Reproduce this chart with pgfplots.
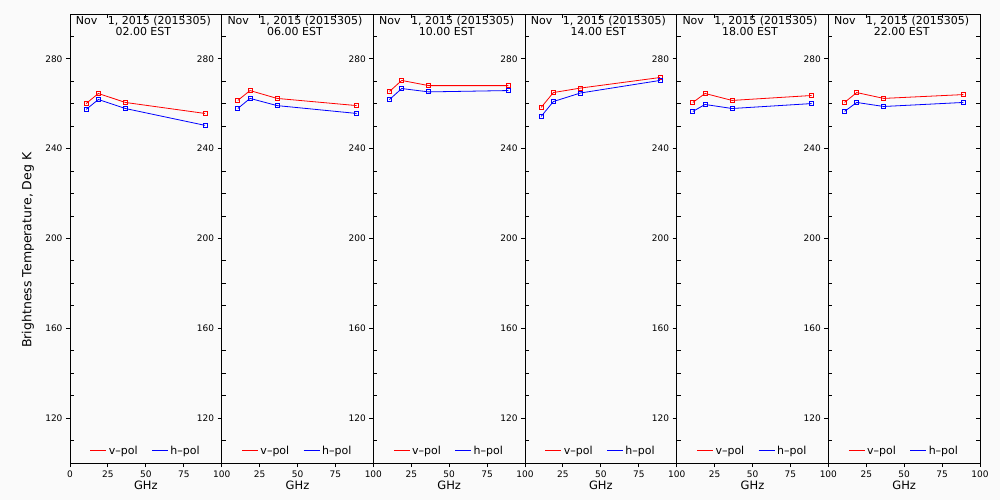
\documentclass[border=0pt]{standalone}
\usepackage{pgfplots}
\pgfplotsset{compat=1.18}
\usepackage{fontspec}
\setmainfont{DejaVu Sans}
\definecolor{bg}{RGB}{250,250,250}
\definecolor{vred}{RGB}{255,0,0}
\definecolor{hblue}{RGB}{0,0,255}
\pgfplotsset{
  panel/.style={
    scale only axis, width=151.67pt, height=449pt,
    xmin=0, xmax=100, ymin=100, ymax=300,
    axis background/.style={fill=bg},
    axis line style={line width=0.9pt},
    xtick={0,25,50,75,100},
    ytick={120,160,200,240,280},
    minor ytick={110,130,140,150,170,180,190,210,220,230,250,260,270,290},
    xtick pos=bottom, ytick pos=left,
    tick align=outside, major tick length=4pt, minor tick length=4pt,
    tick style={line width=0.9pt, black},
    minor tick style={xshift=4pt},
    /pgf/number format/assume math mode=true,
    tick label style={font=\fontsize{9}{10}\selectfont},
    xlabel={GHz},
    xlabel style={at={(axis description cs:0.5,-0.049)}, anchor=center, font=\fontsize{11.5}{12}\selectfont},
    every axis title shift=0pt,
    title style={at={(axis description cs:0.5,1)}, anchor=north, align=center, inner sep=1.5pt,
      xshift=-2.5pt, font=\fontsize{11}{11.5}\selectfont},
    legend style={draw=none, fill=none, at={(axis description cs:0.5,0.027)}, anchor=center,
      font=\fontsize{11}{11}\selectfont, inner sep=0pt,
      /tikz/every even column/.append style={column sep=12pt}},
    legend columns=2,
    legend image code/.code={\draw[#1] (0pt,0pt) -- (16pt,0pt);},
  },
  vp/.style={draw=vred, line width=0.8pt, mark=square, mark size=2pt, mark options={solid, draw=vred, fill=none}},
  hp/.style={draw=hblue, line width=0.8pt, mark=square, mark size=2pt, mark options={solid, draw=hblue, fill=none}},
}
\newcommand\topticks{%
  \draw[line width=0.9pt] (axis cs:25,300) -- ++(0pt,-4pt);
  \draw[line width=0.9pt] (axis cs:50,300) -- ++(0pt,-4pt);
  \draw[line width=0.9pt] (axis cs:75,300) -- ++(0pt,-4pt);
}
\newcommand\panel[5]{%
  \begin{axis}[panel, at={({70pt+#1*151.67pt},37pt)}, anchor=south west,
    title={Nov\ \ \ 1, 2015 (2015305)\\#2 EST}, #5]
    \addplot[vp] coordinates {#3};
    \addlegendentry{v–pol}
    \addplot[hp] coordinates {#4};
    \addlegendentry{h–pol}
    \topticks
  \end{axis}}
\begin{document}
\begin{tikzpicture}
\fill[bg] (0,0) rectangle (1000pt,500pt);
\useasboundingbox (0,0) rectangle (1000pt,500pt);
\panel{0}{02.00}{(10.65,260.1) (18.7,264.6) (36.5,260.6) (89,255.7)}
  {(10.65,257.5) (18.7,261.9) (36.5,257.9) (89,250.4)}
  {ylabel={Brightness Temperature, Deg K},
   ylabel style={at={(axis description cs:-0.277,0.474)}, anchor=center, font=\fontsize{12.5}{13}\selectfont}}
\panel{1}{06.00}{(10.65,261.5) (18.7,265.9) (36.5,262.4) (89,259.2)}
  {(10.65,257.9) (18.7,262.4) (36.5,259.2) (89,255.7)}
  {xticklabels={{},25,50,75,100}}
\panel{2}{10.00}{(10.65,265.5) (18.7,270.4) (36.5,268.1) (89,268.1)}
  {(10.65,261.9) (18.7,266.8) (36.5,265.3) (89,265.9)}
  {xticklabels={{},25,50,75,100}}
\panel{3}{14.00}{(10.65,258.4) (18.7,265.0) (36.5,267.0) (89,271.7)}
  {(10.65,254.4) (18.7,261.0) (36.5,264.8) (89,270.4)}
  {xticklabels={{},25,50,75,100}}
\panel{4}{18.00}{(10.65,260.6) (18.7,264.6) (36.5,261.5) (89,263.7)}
  {(10.65,256.6) (18.7,259.7) (36.5,257.9) (89,260.1)}
  {xticklabels={{},25,50,75,100}}
\begin{axis}[panel, at={({70pt+5*151.67pt},37pt)}, anchor=south west,
    title={Nov\ \ \ 1, 2015 (2015305)\\22.00 EST}, xticklabels={{},25,50,75,100}]
    \addplot[vp] coordinates {(10.65,260.6) (18.7,265.0) (36.5,262.4) (89,264.1)};
    \addlegendentry{v–pol}
    \addplot[hp] coordinates {(10.65,256.6) (18.7,260.6) (36.5,258.8) (89,260.6)};
    \addlegendentry{h–pol}
    \topticks
    \pgfplotsinvokeforeach{110,120,130,140,150,160,170,180,190,200,210,220,230,240,250,260,270,280,290}{
      \draw[line width=0.9pt] (axis cs:100,#1) -- ++(-4pt,0pt);
    }
\end{axis}
\end{tikzpicture}
\end{document}
